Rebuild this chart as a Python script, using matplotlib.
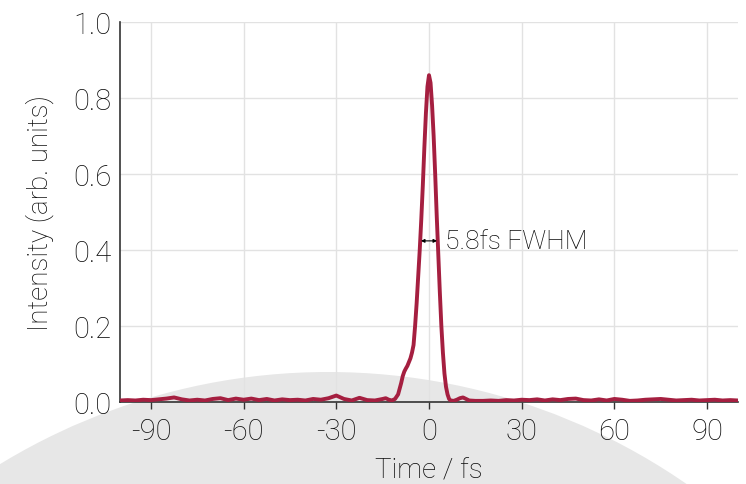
import matplotlib
matplotlib.use("Agg")
import matplotlib.pyplot as plt
from matplotlib.patches import Ellipse

plt.rcParams['font.family'] = ['Roboto', 'DejaVu Sans']
plt.rcParams['font.weight'] = 'light'
plt.rcParams['axes.labelweight'] = 'light'
plt.rcParams['axes.unicode_minus'] = False

# pulse intensity (time in fs, intensity arb. units)
time_fs = [-100, -97.5, -95, -92.5, -90, -87.5, -85, -82.5, -80, -77.5, -75, -72.5,
           -70, -67.5, -65, -62.5, -60, -57.5, -55, -52.5, -50, -47.5, -45, -42.5,
           -40, -37.5, -35, -32.5, -30, -27.5, -25, -22.5, -20, -17.5, -15,
           -14, -13, -12, -11, -10, -9.5, -9, -8.5, -8, -7.5, -7, -6.5, -6, -5.5,
           -5, -4.5, -4, -3.5, -3, -2.5, -2, -1.5, -1, -0.5, 0,
           0.5, 1, 1.5, 2, 2.5, 3, 3.5, 4, 4.5, 5, 5.5, 6, 6.5, 7, 8, 9, 10, 11,
           12, 13, 15, 17.5, 20, 22.5, 25, 27.5, 30, 32.5, 35, 37.5, 40, 42.5, 45,
           47.5, 50, 52.5, 55, 57.5, 60, 62.5, 65, 67.5, 70, 72.5, 75, 77.5, 80,
           82.5, 85, 87.5, 90, 92.5, 95, 97.5, 100]
intensity = [0.004, 0.005, 0.004, 0.006, 0.005, 0.007, 0.009, 0.012, 0.007, 0.004, 0.006, 0.004,
             0.008, 0.010, 0.005, 0.009, 0.006, 0.009, 0.005, 0.008, 0.004, 0.007, 0.005, 0.006,
             0.004, 0.008, 0.006, 0.010, 0.017, 0.008, 0.004, 0.011, 0.005, 0.004, 0.008,
             0.010, 0.006, 0.004, 0.008, 0.020, 0.035, 0.050, 0.068, 0.080, 0.088, 0.095, 0.105, 0.115, 0.130,
             0.150, 0.200, 0.260, 0.330, 0.400, 0.480, 0.570, 0.670, 0.760, 0.830, 0.860,
             0.840, 0.780, 0.700, 0.600, 0.490, 0.390, 0.290, 0.200, 0.130, 0.075, 0.040, 0.020, 0.008, 0.004, 0.003, 0.006, 0.010, 0.012,
             0.008, 0.004, 0.003, 0.003, 0.004, 0.003, 0.005, 0.004, 0.006, 0.005, 0.007, 0.004, 0.007, 0.005, 0.008,
             0.009, 0.005, 0.004, 0.007, 0.004, 0.008, 0.006, 0.003, 0.004, 0.006, 0.007, 0.008, 0.006, 0.004,
             0.005, 0.006, 0.004, 0.005, 0.006, 0.004, 0.005, 0.004]

x_ticks = [-90, -60, -30, 0, 30, 60, 90]
y_ticks = [0.0, 0.2, 0.4, 0.6, 0.8, 1.0]
fwhm = 5.8
half_max = 0.424

line_color = '#a51f40'
text_color = '#0a0a0a'

fig = plt.figure(figsize=(7.46, 4.85), dpi=100)
# big grey disc behind the plot (pixel geometry of the reference)
R = 630
disc = Ellipse((328 / 746, (485 - 373 - R) / 485), 2 * R / 746, 2 * R / 485,
               transform=fig.transFigure, facecolor='#e7e7e7', edgecolor='none', zorder=-1)
fig.patches.append(disc)

ax = fig.add_axes([120 / 746, 82 / 485, 618 / 746, 380 / 485])
ax.set_zorder(1)
ax.set_facecolor('none')
ax.plot(time_fs, intensity, color=line_color, lw=2.8, zorder=3, solid_joinstyle='round')

ax.annotate('', xy=(-fwhm / 2 + 0.3, half_max), xytext=(fwhm / 2 - 0.3, half_max),
            arrowprops=dict(arrowstyle='<|-|>', color='black', lw=0.8,
                            mutation_scale=5, shrinkA=0, shrinkB=0), zorder=4)
ax.text(5.2, half_max, '5.8fs FWHM', fontsize=19, color=text_color, va='center', ha='left')

ax.set_xlim(-100, 100)
ax.set_ylim(0, 1.0)
ax.set_xticks(x_ticks)
ax.set_yticks(y_ticks)
ax.set_yticklabels([f'{v:.1f}' for v in y_ticks])
ax.grid(True, color='#e2e2e2', lw=1, zorder=1)
ax.set_axisbelow(True)
for s in ['top', 'right']:
    ax.spines[s].set_visible(False)
for s in ['left', 'bottom']:
    ax.spines[s].set_color('#333333')
    ax.spines[s].set_linewidth(1.2)
ax.tick_params(axis='x', length=5, width=1, color='#333333', labelsize=21, labelcolor=text_color, pad=6)
ax.tick_params(axis='y', length=0, labelsize=21, labelcolor=text_color, pad=6)
ax.set_xlabel('Time / fs', fontsize=20, color=text_color, labelpad=8)
ax.set_ylabel('Intensity (arb. units)', fontsize=20, color=text_color, labelpad=14)

fig.savefig('out.png', dpi=100)
